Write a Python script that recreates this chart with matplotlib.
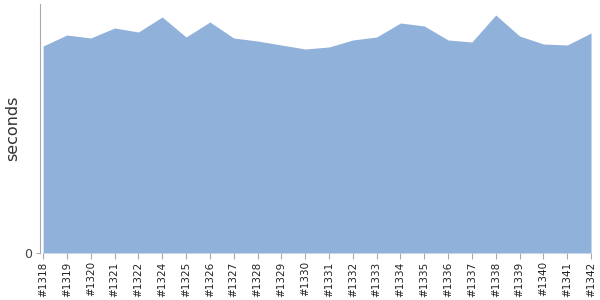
import matplotlib
matplotlib.use("Agg")
import matplotlib.pyplot as plt

builds = ["#1318", "#1319", "#1320", "#1321", "#1322", "#1324", "#1325", "#1326",
          "#1327", "#1328", "#1329", "#1330", "#1331", "#1332", "#1333", "#1334",
          "#1335", "#1336", "#1337", "#1338", "#1339", "#1340", "#1341", "#1342"]
seconds = [207, 218, 215, 225, 221, 236, 216, 231, 215, 212, 208, 204, 206, 213,
           216, 230, 227, 213, 211, 238, 217, 209, 208, 220]

fig = plt.figure(figsize=(6, 3), dpi=100)
ax = fig.add_axes([40/600, 47/300, 552/600, 249/300])
x = list(range(len(builds)))
ax.fill_between(x, 0, seconds, color="#8fb1da", linewidth=0)
ax.set_xlim(-0.13, len(builds) - 1 + 0.04)
ax.set_ylim(0, 249)
ax.set_xticks(x)
ax.set_xticklabels(builds, rotation=90, fontsize=7.5, color="#222222")
ax.set_yticks([0])
ax.set_yticklabels(["0"], fontsize=9, color="#444444")
for s in ["top", "right", "bottom"]:
    ax.spines[s].set_visible(False)
ax.spines["left"].set_color("#aaaaaa")
ax.tick_params(axis="x", length=4, color="#aaaaaa", pad=2)
ax.tick_params(axis="y", length=3, color="#aaaaaa", pad=3)
ax.set_ylabel("seconds", fontsize=11.5, color="#333333")
ax.yaxis.set_label_coords(-20/552, 0.5)
fig.savefig("out.png", dpi=100)
